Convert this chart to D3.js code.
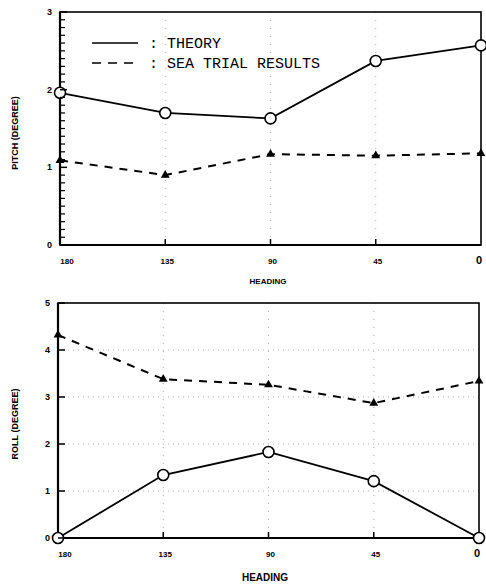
<!DOCTYPE html>
<html><head><meta charset="utf-8">
<script src="https://cdn.jsdelivr.net/npm/d3@7"></script>
<style>body{margin:0;background:#fff}svg{display:block}</style>
</head><body>
<svg id="c" width="486" height="587"></svg>
<script>
const headings = [180, 135, 90, 45, 0];
const headingLabels = ["180", "135", "90", "45", "0"];
const pitchTheory = [1.96, 1.70, 1.63, 2.37, 2.57];
const pitchSea = [1.09, 0.90, 1.17, 1.15, 1.18];
const rollTheory = [0.0, 1.34, 1.83, 1.21, 0.0];
const rollSea = [4.32, 3.38, 3.26, 2.87, 3.34];
const pitchTicks = [0, 1, 2, 3];
const rollTicks = [0, 1, 2, 3, 4, 5];
const legendLabels = [": THEORY", ": SEA TRIAL RESULTS"];

const svg = d3.select("#c");
const tickFont = "Liberation Sans, Arial, sans-serif";
const tickJobs = [];

function panel(o) {
  const x = d3.scaleLinear().domain([180, 0]).range([o.left, o.right]);
  const y = d3.scaleLinear().domain([0, o.ymax]).range([o.bottom, o.top]);
  const g = svg.append("g");
  if (o.grid) {
    g.append("g").selectAll("line").data(o.yticks.filter(d => d > 0 && d < o.ymax)).join("line")
      .attr("x1", o.left).attr("x2", o.right).attr("y1", d => y(d)).attr("y2", d => y(d))
      .attr("stroke", "#999").attr("stroke-width", 0.8).attr("stroke-dasharray", "1,4");
  }
  g.append("g").selectAll("line").data([135, 90, 45]).join("line")
    .attr("x1", d => x(d)).attr("x2", d => x(d)).attr("y1", o.top).attr("y2", o.bottom)
    .attr("stroke", "#999").attr("stroke-width", 0.8).attr("stroke-dasharray", "1,7");
  // frame
  g.append("rect").attr("x", o.left).attr("y", o.top).attr("width", o.right - o.left)
    .attr("height", o.bottom - o.top).attr("fill", "none").attr("stroke", "#000").attr("stroke-width", 1.6);
  g.append("line").attr("x1", o.left).attr("x2", o.left).attr("y1", o.top).attr("y2", o.bottom)
    .attr("stroke", "#000").attr("stroke-width", 2.2);
  g.append("line").attr("x1", o.left).attr("x2", o.right).attr("y1", o.bottom).attr("y2", o.bottom)
    .attr("stroke", "#000").attr("stroke-width", 2.2);
  g.append("g").selectAll("text").data(o.yticks).join("text")
    .attr("x", o.left - 8).attr("y", d => y(d) + 3).attr("text-anchor", "end")
    .attr("font-family", tickFont).attr("font-weight", "bold").attr("font-size", 9)
    .text(d => d);
  g.append("g").selectAll("text").data(headings).join("text")
    .attr("x", (d, i) => x(d) + (i === 0 ? 7 : i === 4 ? -2 : 2)).attr("y", o.bottom + o.xlabOff)
    .attr("text-anchor", "middle")
    .attr("font-family", tickFont).attr("font-weight", "bold").attr("font-size", (d, i) => i === 4 ? 11 : 8)
    .text((d, i) => headingLabels[i]);
  g.append("text").attr("x", o.xtitleX).attr("y", o.xtitleY).attr("text-anchor", "middle")
    .attr("font-family", tickFont).attr("font-weight", "bold").attr("font-size", o.xtitleSize)
    .text("HEADING");
  g.append("text").attr("transform", `translate(18,${o.ytitleY}) rotate(-90)`).attr("text-anchor", "middle")
    .attr("font-family", tickFont).attr("font-weight", "bold").attr("font-size", 9)
    .text(o.ytitle);
  // lines
  const line = d3.line().x((d, i) => x(headings[i])).y(d => y(d));
  g.append("path").datum(o.sea).attr("d", line).attr("fill", "none").attr("stroke", "#000")
    .attr("stroke-width", 2).attr("stroke-dasharray", "8,7");
  g.append("path").datum(o.theory).attr("d", line).attr("fill", "none").attr("stroke", "#000")
    .attr("stroke-width", 1.8);
  const tri = d3.symbol().type(d3.symbolTriangle).size(34);
  g.append("g").selectAll("path").data(o.sea).join("path").attr("d", tri)
    .attr("transform", (d, i) => `translate(${x(headings[i])},${y(d)})`).attr("fill", "#000");
  g.append("g").selectAll("circle").data(o.theory).join("circle")
    .attr("cx", (d, i) => x(headings[i])).attr("cy", d => y(d)).attr("r", 5.5)
    .attr("fill", "#fff").attr("stroke", "#000").attr("stroke-width", 1.6);
  tickJobs.push({o, x, y});
}

panel({left: 60, right: 481, top: 12, bottom: 245, ymax: 3, yticks: pitchTicks, minor: true, grid: false,
  theory: pitchTheory, sea: pitchSea, xlabOff: 19, xtitleX: 268, xtitleY: 284, xtitleSize: 8,
  ytitle: "PITCH (DEGREE)", ytitleY: 133});
panel({left: 58, right: 479, top: 303, bottom: 538, ymax: 5, yticks: rollTicks, minor: false, grid: true,
  theory: rollTheory, sea: rollSea, xlabOff: 19, xtitleX: 265, xtitleY: 581, xtitleSize: 10,
  ytitle: "ROLL (DEGREE)", ytitleY: 424});

// ticks as small filled rectangles, drawn last
tickJobs.forEach(({o, x, y}, k) => {
  svg.selectAll("rect.ymaj" + k).data(o.yticks).join("rect").attr("class", "ymaj" + k)
    .attr("x", o.left).attr("width", 7).attr("y", d => y(d) - 0.75).attr("height", 1.5)
    .attr("fill", "#000");
  if (o.minor) {
    svg.selectAll("rect.ymin" + k).data(d3.range(1, o.ymax * 10).filter(v => v % 10 !== 0).map(v => v / 10))
      .join("rect").attr("class", "ymin" + k)
      .attr("x", o.left).attr("width", 5).attr("y", d => y(d) - 0.6).attr("height", 1.2)
      .attr("fill", "#000");
  }
  svg.selectAll("rect.xt" + k).data([135, 90, 45]).join("rect").attr("class", "xt" + k)
    .attr("x", d => x(d) - 0.75).attr("width", 1.5).attr("y", o.bottom - 6).attr("height", 6)
    .attr("fill", "#000");
});

// legend
const lg = svg.append("g");
lg.append("line").attr("x1", 92).attr("x2", 138).attr("y1", 43).attr("y2", 43).attr("stroke", "#000").attr("stroke-width", 1.5);
lg.append("line").attr("x1", 92).attr("x2", 140).attr("y1", 63).attr("y2", 63).attr("stroke", "#000")
  .attr("stroke-width", 1.5).attr("stroke-dasharray", "9,7");
lg.selectAll("text").data(legendLabels).join("text")
  .attr("x", 149).attr("y", (d, i) => 48 + i * 20)
  .attr("font-family", "Liberation Mono, DejaVu Sans Mono, monospace").attr("font-size", 15)
  .text(d => d);
</script>
</body></html>
